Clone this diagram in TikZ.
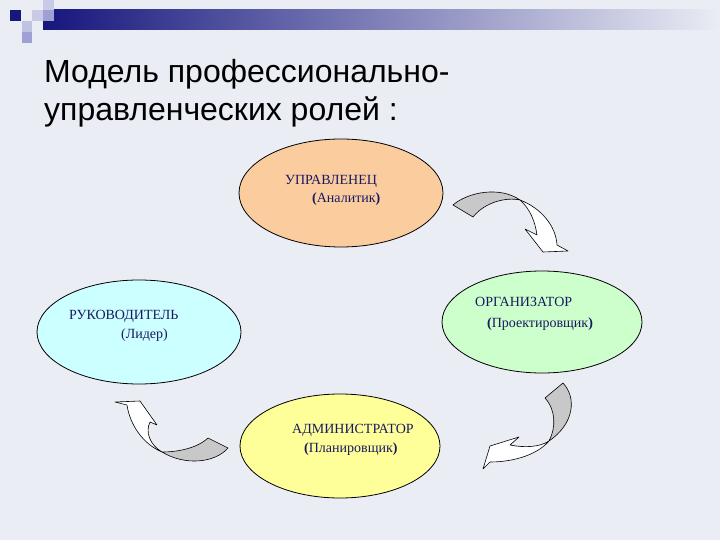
\documentclass[tikz,border=0pt]{standalone}
\usepackage{fontspec}
\setmainfont{Liberation Serif}
\newfontfamily\titlefont{Liberation Sans}
\usepackage{tikz}
\usetikzlibrary{shapes.geometric}
\definecolor{bgpaper}{RGB}{234,237,244}
\definecolor{navy}{RGB}{22,22,125}
\definecolor{lavender}{RGB}{200,202,230}
\definecolor{lavmid}{RGB}{160,160,212}
\definecolor{rolecol}{RGB}{25,25,95}
\definecolor{peach}{RGB}{251,204,158}
\definecolor{mint}{RGB}{204,255,204}
\definecolor{lemon}{RGB}{255,255,153}
\definecolor{aqua}{RGB}{204,255,255}
\definecolor{bandgrey}{RGB}{200,200,200}

\begin{document}
\begin{tikzpicture}[x=1pt, y=-1pt,
    role/.style={ellipse, draw, line width=0.8pt, inner sep=0pt},
    rolename/.style={anchor=base west, inner sep=0pt, text=rolecol,
        font=\fontsize{14}{16}\selectfont},
    bandback/.style={draw, fill=bandgrey, line width=0.6pt, line join=round},
    bandfront/.style={draw, fill=white, line width=0.6pt, line join=round}]
        \useasboundingbox (0, 0) rectangle (720, 540);
        \fill [bgpaper] (0, 0) rectangle (720, 540);
        \shade [left color=navy, middle color={rgb,255:red,105;green,105;blue,178},
            right color=bgpaper] (43, 10) rectangle (720, 30);
        \fill [navy] (10, 10) rectangle (21, 21);
        \fill [lavender] (32, 10) rectangle (43, 21);
        \fill [lavender] (43, 0) rectangle (54, 10);
        \fill [lavmid] (43, 10) rectangle (54, 21);
        \fill [lavender!80!lavmid] (22, 21) rectangle (32, 32);
        \fill [lavmid] (22, 32) rectangle (32, 43);

        \node [anchor=base west, inner sep=0pt, font=\titlefont\fontsize{32}{38}\selectfont]
            (title1) at (44, 83) {Модель профессионально-};
        \node [anchor=base west, inner sep=0pt, font=\titlefont\fontsize{32}{38}\selectfont]
            (title2) at (44, 121) {управленческих ролей :};

        \node [role, fill=peach, minimum width=204pt, minimum height=108pt] (upr) at (341, 193) {};
        \node [role, fill=mint, minimum width=200pt, minimum height=102pt] (org) at (542, 322) {};
        \node [role, fill=lemon, minimum width=200pt, minimum height=104pt] (adm) at (340, 446) {};
        \node [role, fill=aqua, minimum width=204pt, minimum height=104pt] (ruk) at (139, 332) {};

        \node [rolename] (upr-a) at (285, 185) {УПРАВЛЕНЕЦ};
        \node [rolename] (upr-b) at (312, 203) {{\bfseries(}Аналитик{\bfseries)}};
        \node [rolename] (org-a) at (475, 306) {ОРГАНИЗАТОР};
        \node [rolename] (org-b) at (487, 327) {{\bfseries(}Проектировщик{\bfseries)}};
        \node [rolename] (adm-a) at (292, 433) {АДМИНИСТРАТОР};
        \node [rolename] (adm-b) at (304, 452) {{\bfseries(}Планировщик{\bfseries)}};
        \node [rolename] (ruk-a) at (69, 319) {РУКОВОДИТЕЛЬ};
        \node [rolename] (ruk-b) at (121, 338) {(Лидер)};

        \draw [bandback] (453, 205) .. controls (468, 192) and (500, 186) .. (520, 200)
            .. controls (506, 197) and (485, 202) .. (473, 217) -- cycle;
        \draw [bandfront] (520, 200) .. controls (541, 208) and (556, 226) .. (557, 245)
            -- (568, 251) -- (543, 252) -- (525, 229) -- (537, 235)
            .. controls (535, 221) and (530, 209) .. (520, 200) -- cycle;

        \draw [bandback] (563, 383) .. controls (577, 398) and (574, 424) .. (549, 441)
            .. controls (556, 428) and (556, 410) .. (545, 398) -- cycle;
        \draw [bandfront] (549, 441) .. controls (538, 454) and (515, 462) .. (490, 462)
            -- (483, 469) -- (490, 446) -- (519, 437) -- (510, 445)
            .. controls (525, 448) and (540, 447) .. (549, 441) -- cycle;

        \draw [bandback] (208, 438) -- (228, 448) .. controls (215, 463) and (185, 466) .. (162, 452)
            .. controls (176, 452) and (196, 449) .. (208, 438) -- cycle;
        \draw [bandfront] (162, 452) .. controls (143, 444) and (130, 425) .. (127, 405)
            -- (115, 402) -- (140, 401) -- (157, 425) -- (150, 422)
            .. controls (145, 432) and (150, 445) .. (162, 452) -- cycle;
    \end{tikzpicture}
\end{document}
